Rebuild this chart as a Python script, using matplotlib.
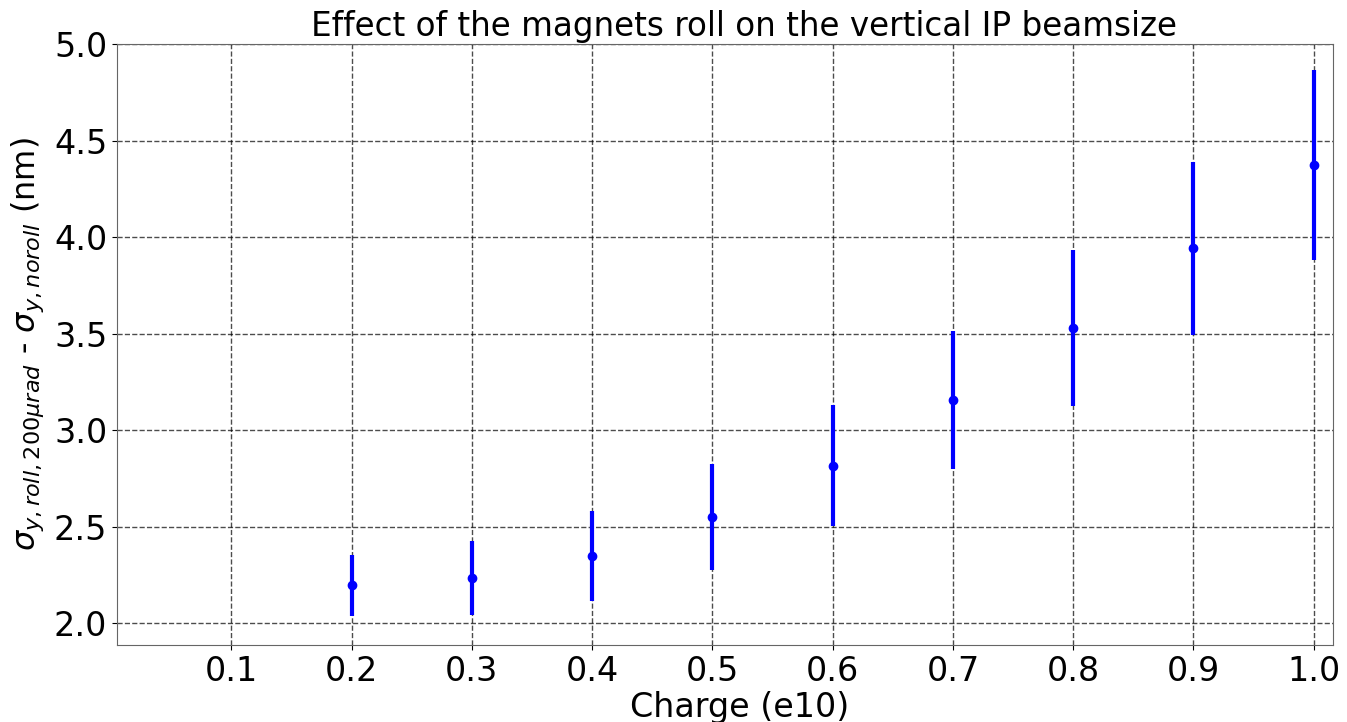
import matplotlib
matplotlib.use('Agg')
import matplotlib.pyplot as plt
import numpy as np

charge = [0.2, 0.3, 0.4, 0.5, 0.6, 0.7, 0.8, 0.9, 1.0]
dsigma = [2.197, 2.233, 2.351, 2.552, 2.816, 3.156, 3.530, 3.942, 4.376]
dsigma_err = [0.159, 0.192, 0.233, 0.275, 0.313, 0.356, 0.402, 0.448, 0.492]
xticks = [0.1, 0.2, 0.3, 0.4, 0.5, 0.6, 0.7, 0.8, 0.9, 1.0]
yticks = [2.0, 2.5, 3.0, 3.5, 4.0, 4.5, 5.0]

fig = plt.figure(figsize=(13.47, 7.22), dpi=100)
fig.subplots_adjust(left=0.0869, right=0.9896, top=0.939, bottom=0.1066)
ax = fig.add_subplot(111)

ax.errorbar(charge, dsigma, yerr=dsigma_err, fmt='o', color='blue',
            ecolor='blue', elinewidth=3, markersize=6, capsize=0, zorder=3)

ax.set_xticks(xticks)
ax.set_yticks(yticks)
ax.set_xlim(0.005, 1.016)
ax.set_ylim(1.888, 5.0)
ax.tick_params(axis='both', which='major', labelsize=24)
ax.grid(True, color='k', linestyle='--', linewidth=1, alpha=0.7)
ax.set_axisbelow(True)
for s in ax.spines.values():
    s.set_color('0.4')

ax.set_xlabel('Charge (e10)', fontsize=24, labelpad=2)
ax.xaxis.label.set_x(0.512)
ax.set_ylabel(r'$\sigma_{y, roll, 200\mu rad}$ - $\sigma_{y, noroll}$ (nm)', fontsize=23, labelpad=6)
ax.set_title('Effect of the magnets roll on the vertical IP beamsize', fontsize=23.5, x=0.516)

plt.savefig('out.png', dpi=100)
